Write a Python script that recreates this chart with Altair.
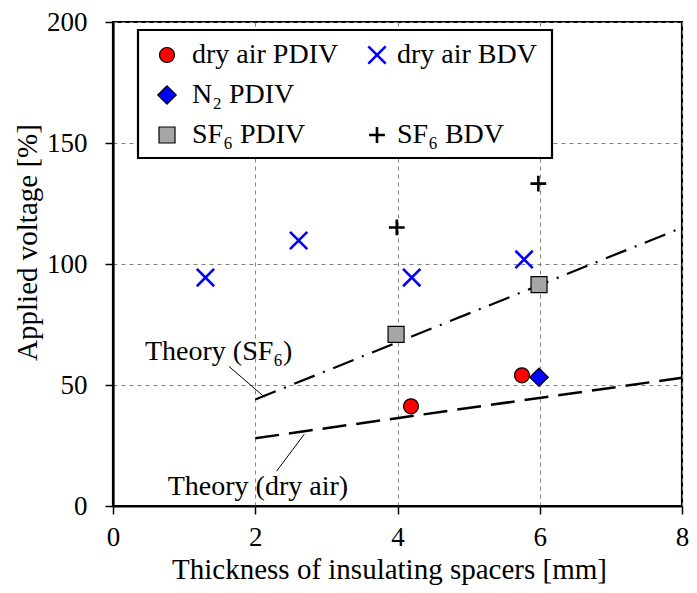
import altair as alt
import pandas as pd

# ---- data ----
dry_pdiv_x = [4.19, 5.75]
dry_pdiv_y = [41.2, 54.0]
dry_bdv_x = [1.30, 2.61, 4.20, 5.78]
dry_bdv_y = [94.4, 109.7, 94.4, 101.9]
n2_pdiv_x = [5.99]
n2_pdiv_y = [53.2]
sf6_pdiv_x = [3.98, 5.99]
sf6_pdiv_y = [70.9, 91.5]
sf6_bdv_x = [3.99, 5.98]
sf6_bdv_y = [115.1, 133.2]
theory_sf6_x = [2, 8]
theory_sf6_y = [44, 115]
theory_air_x = [2, 8]
theory_air_y = [28, 53]

x_ticks = [0, 2, 4, 6, 8]
y_ticks = [0, 50, 100, 150, 200]

FONT = "Liberation Serif"
W, H = 569, 484

xscale = alt.Scale(domain=[0, 8], nice=False, zero=False)
yscale = alt.Scale(domain=[0, 200], nice=False)
xaxis = alt.Axis(values=x_ticks, title="Thickness of insulating spacers [mm]",
                 labelBaseline="alphabetic", labelPadding=31, tickSize=8,
                 titleX=276, titleY=72, titleBaseline="alphabetic", titleAlign="center")
yaxis = alt.Axis(values=y_ticks, title="Applied voltage [%]", tickSize=8, labelPadding=18,
                 titleX=-77, titleY=220, titleBaseline="alphabetic", titleAlign="center",
                 titleAngle=270)


def enc(ch):
    return ch.encode(
        x=alt.X("x:Q", scale=xscale, axis=xaxis),
        y=alt.Y("y:Q", scale=yscale, axis=yaxis),
    )


def df(xs, ys):
    return pd.DataFrame({"x": xs, "y": ys})


X_PATH = "M-1,-1L1,1M-1,1L1,-1"
PLUS_PATH = "M-1,0L1,0M0,-1L0,1"

line_air = enc(alt.Chart(df(theory_air_x, theory_air_y)).mark_line(
    color="black", strokeWidth=2.5, strokeDash=[24, 10]))
line_sf6 = enc(alt.Chart(df(theory_sf6_x, theory_sf6_y)).mark_line(
    color="black", strokeWidth=2.2, strokeDash=[22, 9, 2, 9]))

p_dry_bdv = enc(alt.Chart(df(dry_bdv_x, dry_bdv_y)).mark_point(
    shape=X_PATH, size=300, filled=False, color="#0000ff", strokeWidth=2.6, opacity=1))
p_sf6_bdv = enc(alt.Chart(df(sf6_bdv_x, sf6_bdv_y)).mark_point(
    shape=PLUS_PATH, size=250, filled=False, color="black", strokeWidth=2.6, opacity=1))
p_sf6_pdiv = enc(alt.Chart(df(sf6_pdiv_x, sf6_pdiv_y)).mark_point(
    shape="square", size=256, filled=True, fill="#a6a6a6", stroke="black", strokeWidth=1.2, opacity=1))
p_dry_pdiv = enc(alt.Chart(df(dry_pdiv_x, dry_pdiv_y)).mark_point(
    shape="circle", size=225, filled=True, fill="#ff0000", stroke="black", strokeWidth=1.2, opacity=1))
p_n2 = enc(alt.Chart(df(n2_pdiv_x, n2_pdiv_y)).mark_point(
    shape="diamond", size=340, filled=True, fill="#0000ff", stroke="black", strokeWidth=1.2, opacity=1))

# annotations (data coordinates)
ann_text = pd.DataFrame({"x": [0.45, 0.77], "y": [63.5, 7.8],
                         "t": ["Theory (SF\u2086)", "Theory (dry air)"]})
ann = alt.Chart(ann_text).mark_text(align="left", baseline="middle", font=FONT,
                                    fontSize=28, color="black").encode(
    x=alt.X("x:Q", scale=xscale, axis=xaxis), y=alt.Y("y:Q", scale=yscale, axis=yaxis), text="t:N")
leader_sf6 = enc(alt.Chart(df([1.63, 2.13], [57.7, 45.0])).mark_line(color="black", strokeWidth=1))
leader_air = enc(alt.Chart(df([2.30, 2.69], [14.4, 29.7])).mark_line(color="black", strokeWidth=1))

# ---- legend box (drawn manually) ----
one = pd.DataFrame({"a": [0]})
leg_box = alt.Chart(one).mark_rect(fill="white", stroke="black", strokeWidth=2.2).encode(
    x=alt.value(25), x2=alt.value(439), y=alt.value(8), y2=alt.value(136))

rows = [33, 73, 113]
c1s, c2s, c1t, c2t = 54, 264, 79, 284
LFS = 28


def sym(xp, yp, **m):
    return alt.Chart(one).mark_point(opacity=1, **m).encode(x=alt.value(xp), y=alt.value(yp))


def lab(xp, yp, s):
    return alt.Chart(one).mark_text(align="left", baseline="middle", font=FONT, fontSize=LFS,
                                    color="black").encode(x=alt.value(xp), y=alt.value(yp),
                                                          text=alt.value(s))


legend_layers = [
    leg_box,
    sym(c1s, rows[0], shape="circle", size=225, filled=True, fill="#ff0000", stroke="black", strokeWidth=1.2),
    lab(c1t, rows[0], "dry air PDIV"),
    sym(c2s, rows[0], shape=X_PATH, size=300, filled=False, color="#0000ff", strokeWidth=2.6),
    lab(c2t, rows[0], "dry air BDV"),
    sym(c1s, rows[1], shape="diamond", size=340, filled=True, fill="#0000ff", stroke="black", strokeWidth=1.2),
    lab(c1t, rows[1], "N\u2082 PDIV"),
    sym(c1s, rows[2], shape="square", size=256, filled=True, fill="#a6a6a6", stroke="black", strokeWidth=1.2),
    lab(c1t, rows[2], "SF\u2086 PDIV"),
    sym(c2s, rows[2], shape=PLUS_PATH, size=250, filled=False, color="black", strokeWidth=2.6),
    lab(c2t, rows[2], "SF\u2086 BDV"),
]

chart = alt.layer(
    line_air, line_sf6, leader_sf6, leader_air, ann,
    p_dry_bdv, p_sf6_bdv, p_sf6_pdiv, p_dry_pdiv, p_n2,
    *legend_layers,
).properties(
    width=W, height=H,
    autosize=alt.AutoSizeParams(type="none"),
    padding={"left": 105, "top": 14, "right": 7, "bottom": 79},
).configure_view(
    stroke="black", strokeWidth=2.2
).configure_axis(
    labelFont=FONT, titleFont=FONT, labelFontSize=27, titleFontSize=29,
    labelColor="black", titleColor="black", titleFontWeight="normal",
    domainColor="black", domainWidth=2.2, tickColor="black", tickWidth=1.5,
    gridColor="#808080", gridDash=[4, 4], gridWidth=1, labelFlush=False,
)

chart.save("out.html", embed_options={"renderer": "svg", "actions": False})
